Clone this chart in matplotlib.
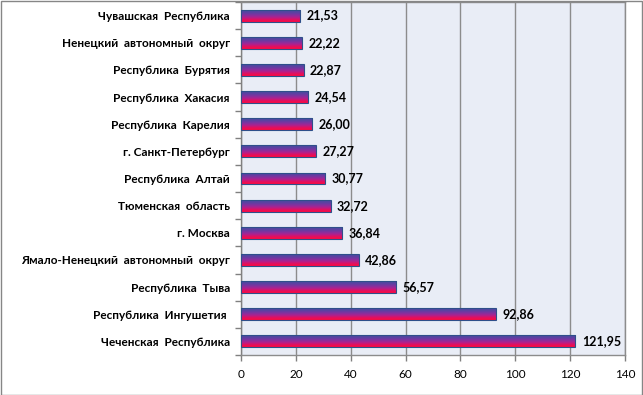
import numpy as np
import matplotlib
matplotlib.use("Agg")
import matplotlib.pyplot as plt
from matplotlib.colors import LinearSegmentedColormap
from matplotlib.patches import Rectangle

categories = [
    "Чувашская  Республика",
    "Ненецкий  автономный  округ",
    "Республика  Бурятия",
    "Республика  Хакасия",
    "Республика  Карелия",
    "г. Санкт-Петербург",
    "Республика  Алтай",
    "Тюменская  область",
    "г. Москва",
    "Ямало-Ненецкий  автономный  округ",
    "Республика  Тыва",
    "Республика  Ингушетия ",
    "Чеченская  Республика",
]
values = [21.53, 22.22, 22.87, 24.54, 26.00, 27.27, 30.77, 32.72, 36.84, 42.86, 56.57, 92.86, 121.95]
value_labels = ["21,53", "22,22", "22,87", "24,54", "26,00", "27,27", "30,77", "32,72",
                "36,84", "42,86", "56,57", "92,86", "121,95"]
xticks = [0, 20, 40, 60, 80, 100, 120, 140]

plt.rcParams['font.family'] = ['Lato', 'DejaVu Sans']

fig = plt.figure(figsize=(6.43, 3.95), dpi=100)
fig.patch.set_facecolor("white")
ax = fig.add_axes([241/643, 40/395, 384/643, 353/395])
ax.set_facecolor("#e9edf6")

cmap = LinearSegmentedColormap.from_list(
    "bar", ["#484ea0", "#5a42a2", "#8032a0", "#ac2290", "#e21060", "#ff0a40"])
grad = np.linspace(0, 1, 64).reshape(-1, 1)

h = 0.44
for i, (v, lab) in enumerate(zip(values, value_labels)):
    y0 = i - h / 2
    im = ax.imshow(grad, cmap=cmap, aspect="auto",
                   extent=[0, v, i + h / 2, i - h / 2], origin="upper", zorder=3,
                   interpolation="bilinear")
    rect = Rectangle((0, y0), v, h, facecolor="none", edgecolor="#2f4f8a",
                     linewidth=0.8, zorder=4)
    ax.add_patch(rect)
    im.set_clip_path(rect)
    ax.text(v + 2.3, i, lab, va="center", ha="left", fontsize=9,
            fontweight="bold", color="black", zorder=5)

ax.set_xlim(0, 140)
ax.set_ylim(len(categories) - 0.5, -0.5)
ax.set_xticks(xticks)
ax.set_xticklabels([str(t) for t in xticks], fontsize=8.5)
ax.set_yticks(range(len(categories)))
ax.set_yticklabels(categories, fontsize=8.5, fontweight="bold")
ax.set_yticks(np.arange(-0.5, len(categories), 1.0), minor=True)
ax.tick_params(axis="y", which="major", length=0, pad=8)
ax.tick_params(axis="y", which="minor", length=4, color="#808080", width=1)
ax.tick_params(axis="x", which="major", length=4, color="#808080", width=1, pad=6)

ax.grid(axis="x", color="#8c8c8c", linewidth=1, zorder=1)
ax.set_axisbelow(True)
for s in ["top", "right", "bottom"]:
    ax.spines[s].set_color("#8c8c8c")
    ax.spines[s].set_linewidth(1)
ax.spines["left"].set_color("#808080")
ax.spines["left"].set_linewidth(1)

fig.add_artist(Rectangle((0.5/643, 0.5/395), 641.5/643, 393.5/395,
                         transform=fig.transFigure, fill=False,
                         edgecolor="#868686", linewidth=1))

fig.savefig("out.png", dpi=100)
